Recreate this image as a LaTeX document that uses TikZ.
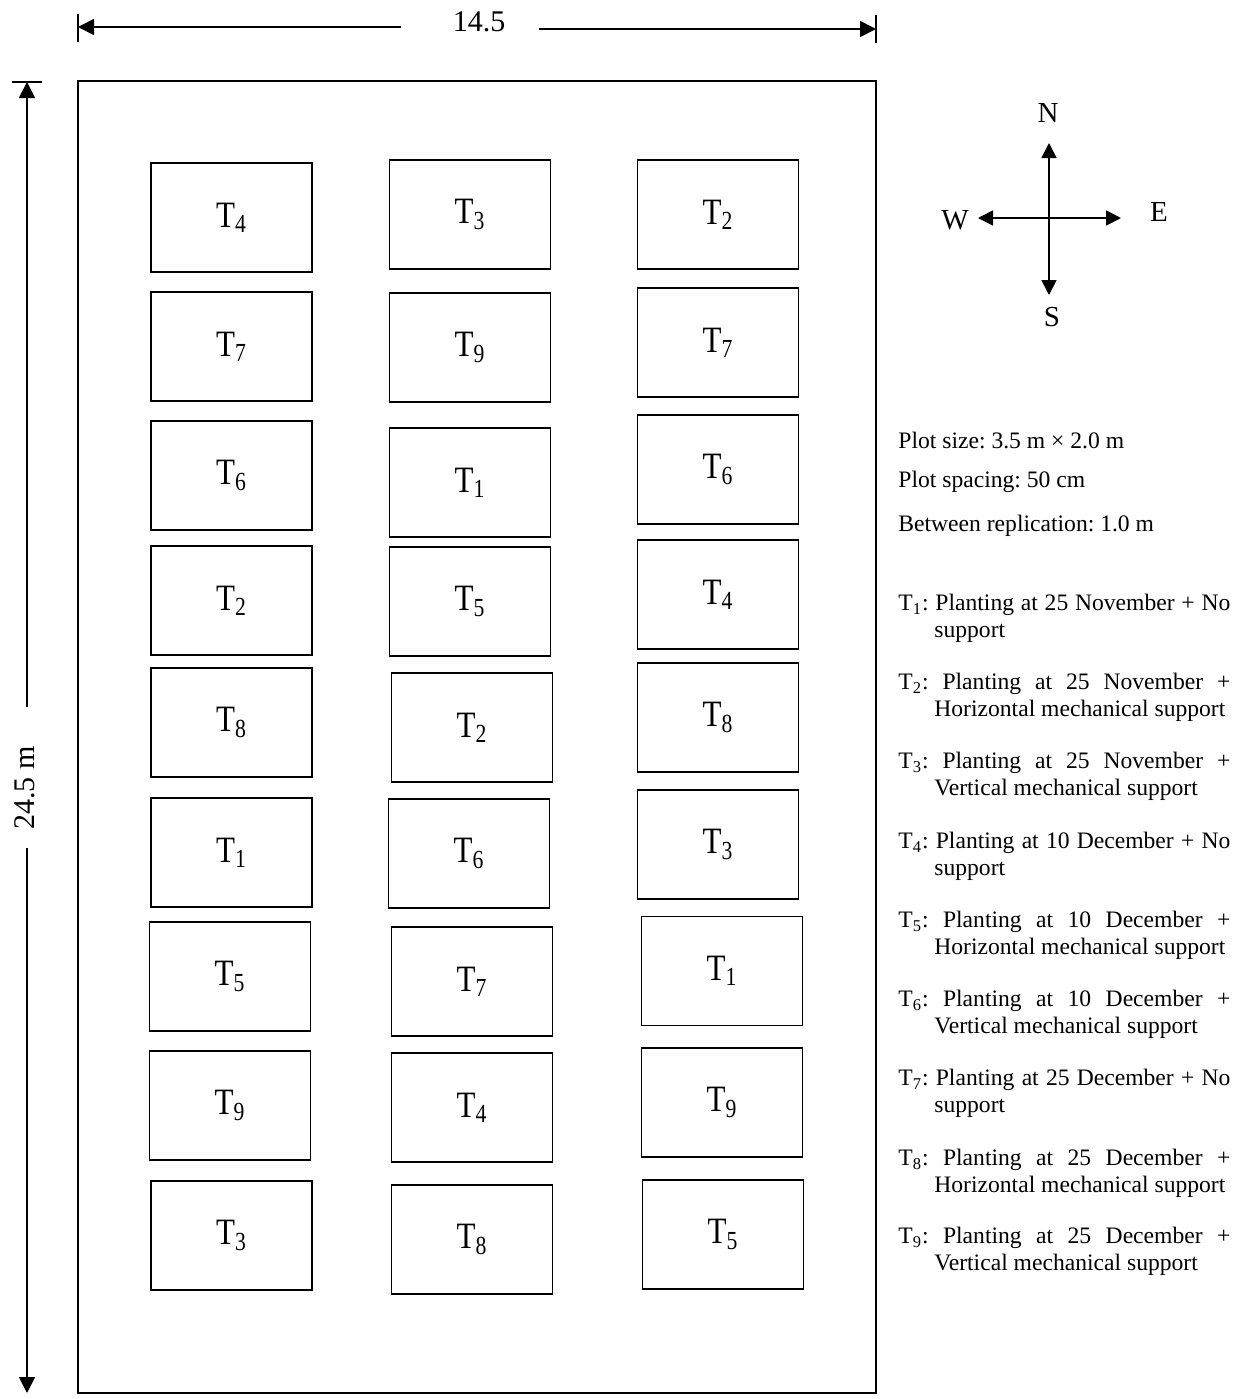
\documentclass[tikz,border=0pt]{standalone}
\usepackage{fontspec}
\usepackage{graphicx}
\setmainfont{Liberation Serif}
\usetikzlibrary{arrows.meta}
\frenchspacing
\newcommand{\plotlab}[1]{\scalebox{1}[1.2]{T\textsubscript{#1}}}
\newcommand{\legitem}[2]{\spaceskip=0pt\relax\xspaceskip=0pt\relax\makebox[166pt][s]{#1}\\\hspace*{18pt}#2}

\begin{document}
\begin{tikzpicture}[x=0.5pt,y=-0.5pt]
		\tikzset{plot/.style = {draw, line width=0.9pt, minimum width=80.5pt, minimum height=54.5pt, inner sep=0pt, font=\fontsize{15.5}{18}\selectfont}}
		\tikzset{dimline/.style = {line width=0.9pt, -{Triangle[length=8pt,width=8pt]}}}
		\tikzset{needle/.style = {line width=0.9pt, -{Triangle[length=7.5pt,width=7.5pt]}}}
		\tikzset{dimlabel/.style = {inner sep=0pt, font=\fontsize{15}{18}\selectfont}}
		\tikzset{compass/.style = {inner sep=0pt, font=\fontsize{14.5}{17}\selectfont}}
		\tikzset{legend/.style = {anchor=west, inner sep=0pt, font=\fontsize{11.8}{13.5}\selectfont}}
		\tikzset{treat/.style = {legend, text width=166pt, align=left}}
		\useasboundingbox (0,0) rectangle (1244,1399);
		% field
		\draw[line width=0.9pt] (78,81) rectangle (876,1393);
		% plots, column 1
		\node[plot] (c1r1) at (231.5,217.5) {\plotlab{4}};
		\node[plot] (c1r2) at (231.5,346.5) {\plotlab{7}};
		\node[plot] (c1r3) at (231.5,475.5) {\plotlab{6}};
		\node[plot] (c1r4) at (231.5,600.5) {\plotlab{2}};
		\node[plot] (c1r5) at (231.5,722.5) {\plotlab{8}};
		\node[plot] (c1r6) at (231.5,852.5) {\plotlab{1}};
		\node[plot] (c1r7) at (230,976.5) {\plotlab{5}};
		\node[plot] (c1r8) at (230,1105.5) {\plotlab{9}};
		\node[plot] (c1r9) at (231.5,1235.5) {\plotlab{3}};
		% plots, column 2
		\node[plot] (c2r1) at (470,214.5) {\plotlab{3}};
		\node[plot] (c2r2) at (470,347.5) {\plotlab{9}};
		\node[plot] (c2r3) at (470,482.5) {\plotlab{1}};
		\node[plot] (c2r4) at (470,601.5) {\plotlab{5}};
		\node[plot] (c2r5) at (472,727.5) {\plotlab{2}};
		\node[plot] (c2r6) at (469,853.5) {\plotlab{6}};
		\node[plot] (c2r7) at (472,981.5) {\plotlab{7}};
		\node[plot] (c2r8) at (472,1107.5) {\plotlab{4}};
		\node[plot] (c2r9) at (472,1239.5) {\plotlab{8}};
		% plots, column 3
		\node[plot] (c3r1) at (718,214.5) {\plotlab{2}};
		\node[plot] (c3r2) at (718,342.5) {\plotlab{7}};
		\node[plot] (c3r3) at (718,469.5) {\plotlab{6}};
		\node[plot] (c3r4) at (718,594.5) {\plotlab{4}};
		\node[plot] (c3r5) at (718,717.5) {\plotlab{8}};
		\node[plot] (c3r6) at (718,844.5) {\plotlab{3}};
		\node[plot] (c3r7) at (722,971) {\plotlab{1}};
		\node[plot] (c3r8) at (722,1102.5) {\plotlab{9}};
		\node[plot] (c3r9) at (723,1234.5) {\plotlab{5}};
		% width of the field
		\draw[line width=0.9pt] (78,14) -- (78,42);
		\draw[line width=0.9pt] (876,15) -- (876,43);
		\coordinate (wl) at (78,27);
		\coordinate (wr) at (876,29);
		\coordinate (wgl) at (401,27);
		\coordinate (wgr) at (539,29);
		\node[dimlabel] (wlab) at (479,22) {14.5};
		\draw[dimline] (wgl) -- (wl);
		\draw[dimline] (wgr) -- (wr);
		% length of the field
		\draw[line width=0.9pt] (12,82) -- (42,82);
		\coordinate (ht) at (27,82);
		\coordinate (hb) at (27,1393);
		\coordinate (hgt) at (27,707);
		\coordinate (hgb) at (27,848);
		\node[dimlabel, rotate=90] (hlab) at (25,788) {24.5 m};
		\draw[dimline] (hgt) -- (ht);
		\draw[dimline] (hgb) -- (hb);
		% compass
		\coordinate (ctr) at (1049,218);
		\coordinate (ntip) at (1049,143);
		\coordinate (stip) at (1049,295);
		\coordinate (wtip) at (978,218);
		\coordinate (etip) at (1121,218);
		\node[compass] (north) at (1048,113) {N};
		\node[compass] (south) at (1052,317) {S};
		\node[compass] (west) at (955,220) {W};
		\node[compass] (east) at (1159,212) {E};
		\draw[needle] (ctr) -- (ntip);
		\draw[needle] (ctr) -- (stip);
		\draw[needle] (ctr) -- (wtip);
		\draw[needle] (ctr) -- (etip);
		% legend
		\node[legend] (size) at (898,440) {Plot size: 3.5 m × 2.0 m};
		\node[legend] (spacing) at (898,482) {Plot spacing: 50 cm};
		\node[legend] (rep) at (898,526) {Between replication: 1.0 m};
		\node[treat] (t1) at (898,618.5) {\legitem{T\textsubscript{1}: Planting at 25 November + No}{support}};
		\node[treat] (t2) at (898,697.5) {\legitem{T\textsubscript{2}: Planting at 25 November +}{Horizontal mechanical support}};
		\node[treat] (t3) at (898,776.5) {\legitem{T\textsubscript{3}: Planting at 25 November +}{Vertical mechanical support}};
		\node[treat] (t4) at (898,856.5) {\legitem{T\textsubscript{4}: Planting at 10 December + No}{support}};
		\node[treat] (t5) at (898,935.5) {\legitem{T\textsubscript{5}: Planting at 10 December +}{Horizontal mechanical support}};
		\node[treat] (t6) at (898,1014.5) {\legitem{T\textsubscript{6}: Planting at 10 December +}{Vertical mechanical support}};
		\node[treat] (t7) at (898,1093.5) {\legitem{T\textsubscript{7}: Planting at 25 December + No}{support}};
		\node[treat] (t8) at (898,1173.5) {\legitem{T\textsubscript{8}: Planting at 25 December +}{Horizontal mechanical support}};
		\node[treat] (t9) at (898,1251.5) {\legitem{T\textsubscript{9}: Planting at 25 December +}{Vertical mechanical support}};
\end{tikzpicture}
\end{document}
